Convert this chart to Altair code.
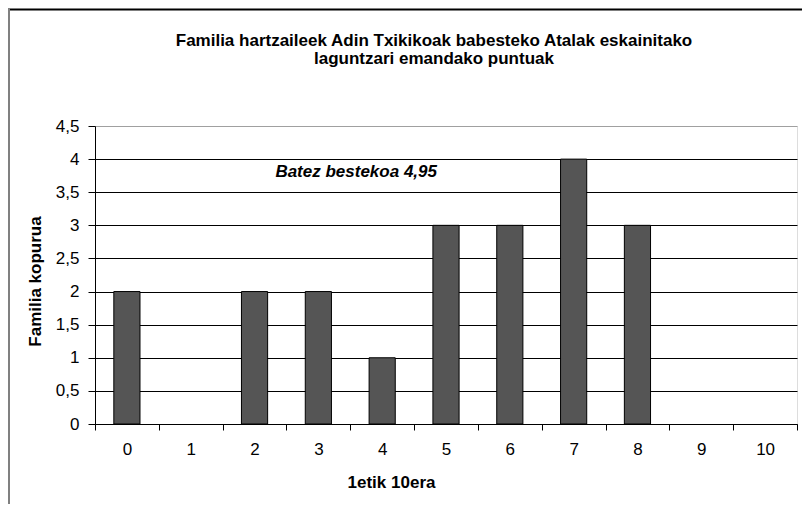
import altair as alt
import pandas as pd

categories = ["0", "1", "2", "3", "4", "5", "6", "7", "8", "9", "10"]
values = [2, 0, 2, 2, 1, 3, 3, 4, 3, 0, 0]
y_ticks = [0, 0.5, 1, 1.5, 2, 2.5, 3, 3.5, 4, 4.5]

title_lines = ["Familia hartzaileek Adin Txikikoak babesteko Atalak eskainitako",
               "laguntzari emandako puntuak"]
x_title = "1etik 10era"
y_title = "Familia kopurua"
note_text = ["Batez bestekoa 4,95"]
note_cat = ["4"]
note_y = [3.73]

FONT = "Liberation Sans"

df = pd.DataFrame({"cat": categories, "val": values})
note_df = pd.DataFrame({"cat": note_cat, "y": note_y, "t": note_text})

xscale = alt.Scale(domain=categories, paddingInner=0, paddingOuter=0)
yscale = alt.Scale(domain=[0, 4.5], nice=False)

xaxis = alt.Axis(title=x_title, labelAngle=0, tickBand="extent",
                 domainColor="#000000", tickColor="#000000", tickSize=6,
                 labelPadding=11, labelFontSize=17, labelFont=FONT,
                 labelColor="#000000",
                 titleFont=FONT, titleFontSize=17, titleFontWeight="bold",
                 titleColor="#000000", titleX=296, titleY=50,
                 titleBaseline="top", titleAlign="center")
yaxis = alt.Axis(title=y_title, values=y_ticks, labelOverlap=False,
                 labelExpr="replace(toString(datum.value), '.', ',')",
                 grid=True,
                 gridColor={"condition": {"test": "datum.value == 4.5", "value": "#a0a0a0"},
                            "value": "#000000"},
                 domainColor="#000000", tickColor="#000000", tickSize=7,
                 labelPadding=9, labelFontSize=17, labelFont=FONT,
                 labelColor="#000000",
                 titleFont=FONT, titleFontSize=17, titleFontWeight="bold",
                 titleColor="#000000", titleX=-51, titleY=155,
                 titleAngle=-90, titleBaseline="bottom", titleAlign="center")

bars = alt.Chart(df).transform_filter("datum.val > 0").mark_bar(
    color="#555555", stroke="#000000", strokeWidth=1, width=alt.RelativeBandSize(0.41)
).encode(
    x=alt.X("cat:N", sort=categories, scale=xscale, axis=xaxis),
    y=alt.Y("val:Q", scale=yscale, axis=yaxis),
)

note = alt.Chart(note_df).mark_text(
    font=FONT, fontSize=17, fontWeight="bold", fontStyle="italic",
    color="#000000", align="center", baseline="alphabetic", dx=-26
).encode(
    x=alt.X("cat:N", sort=categories, scale=xscale, axis=xaxis),
    y=alt.Y("y:Q", scale=yscale, axis=yaxis),
    text="t:N",
)

border_df = pd.DataFrame({"k": [0]})
top_line = alt.Chart(border_df).mark_rule(color="#000000", strokeWidth=2).encode(
    x=alt.value(-90), x2=alt.value(707), y=alt.value(-116.5)
)
left_line = alt.Chart(border_df).mark_rule(color="#808080", strokeWidth=2).encode(
    x=alt.value(-86), y=alt.value(-117), y2=alt.value(400)
)

chart = alt.layer(bars, note, top_line, left_line).properties(
    width=702, height=298,
    autosize=alt.AutoSizeParams(type="none"),
    padding={"left": 87, "top": 118, "right": 5, "bottom": 80},
    title=alt.TitleParams(title_lines, font=FONT, fontSize=17, fontWeight="bold",
                          color="#000000", anchor="middle", frame="group",
                          dx=-12, offset=-60, lineHeight=18),
).configure_view(stroke="#a0a0a0", strokeWidth=1).configure(background="#ffffff")

chart.save("out.html", embed_options={"renderer": "svg", "actions": False})
